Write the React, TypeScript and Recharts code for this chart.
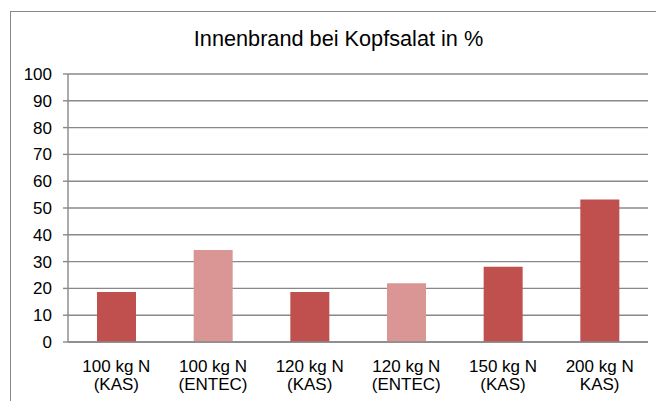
import { BarChart, Bar, XAxis, YAxis, CartesianGrid, Cell } from 'recharts';

const categories = ['100 kg N|(KAS)', '100 kg N|(ENTEC)', '120 kg N|(KAS)', '120 kg N|(ENTEC)', '150 kg N|(KAS)', '200 kg N|KAS)'];
const fertilizer = ['KAS', 'ENTEC', 'KAS', 'ENTEC', 'KAS', 'KAS'];
const values = [18.7, 34.3, 18.7, 21.9, 28.1, 53.2];
const yTicks = [0, 10, 20, 30, 40, 50, 60, 70, 80, 90, 100];
const edgeTicks = [0, 1, 2, 3, 4, 5, 6];

const title = 'Innenbrand bei Kopfsalat in %';
const colors: Record<string, string> = { KAS: '#C0504D', ENTEC: '#D99694' };
const lineColor = '#888888';
const font = '"Liberation Sans", Arial, sans-serif';

const data = categories.map((name, i) => ({ name, value: values[i], kind: fertilizer[i] }));

function CategoryTick(props: any) {
  const { x, y, payload } = props;
  const lines = String(payload.value).split('|');
  return (
    <text x={x} y={y} textAnchor="middle" fill="#000" fontSize={17} fontFamily={font}>
      <tspan x={x} dy={29.5}>{lines[0]}</tspan>
      <tspan x={x} dy={18.5}>{lines[1]}</tspan>
    </text>
  );
}

export default function App() {
  return (
    <div
      style={{
        position: 'absolute',
        left: 0,
        top: 0,
        width: 656,
        height: 401,
        overflow: 'hidden',
        background: '#fff',
        fontFamily: font,
      }}
    >
      <div
        style={{
          position: 'absolute',
          left: 10,
          top: 11,
          width: 700,
          height: 450,
          borderLeft: `1.5px solid ${lineColor}`,
          borderTop: `1.5px solid ${lineColor}`,
        }}
      />
      <BarChart
        width={656}
        height={401}
        data={data}
        margin={{ top: 74, right: 8, left: 8, bottom: 0 }}
        barSize={39}
      >
        <CartesianGrid vertical={false} stroke={lineColor} strokeWidth={1.4} />
        <XAxis
          xAxisId="edges"
          type="number"
          domain={[0, 6]}
          ticks={edgeTicks}
          height={0}
          tick={false}
          axisLine={false}
          tickLine={{ stroke: lineColor, strokeWidth: 1.4 }}
          tickSize={5}
        />
        <XAxis
          dataKey="name"
          height={59}
          interval={0}
          tickLine={false}
          tickSize={0}
          tickMargin={0}
          axisLine={{ stroke: lineColor, strokeWidth: 1.4 }}
          tick={<CategoryTick />}
        />
        <YAxis
          width={60}
          domain={[0, 100]}
          ticks={yTicks}
          interval={0}
          tickSize={5}
          tickMargin={11}
          axisLine={{ stroke: lineColor, strokeWidth: 1.4 }}
          tickLine={{ stroke: lineColor, strokeWidth: 1.4 }}
          tick={{ fill: '#000', fontSize: 17, fontFamily: font }}
        />
        <Bar dataKey="value" isAnimationActive={false}>
          {data.map((d, i) => (
            <Cell key={i} fill={colors[d.kind]} />
          ))}
        </Bar>
      </BarChart>
      <svg width={656} height={60} style={{ position: 'absolute', left: 0, top: 0 }}>
        <text x={338.5} y={46} textAnchor="middle" fontSize={21.7} fontFamily={font} fill="#000">
          {title}
        </text>
      </svg>
    </div>
  );
}
